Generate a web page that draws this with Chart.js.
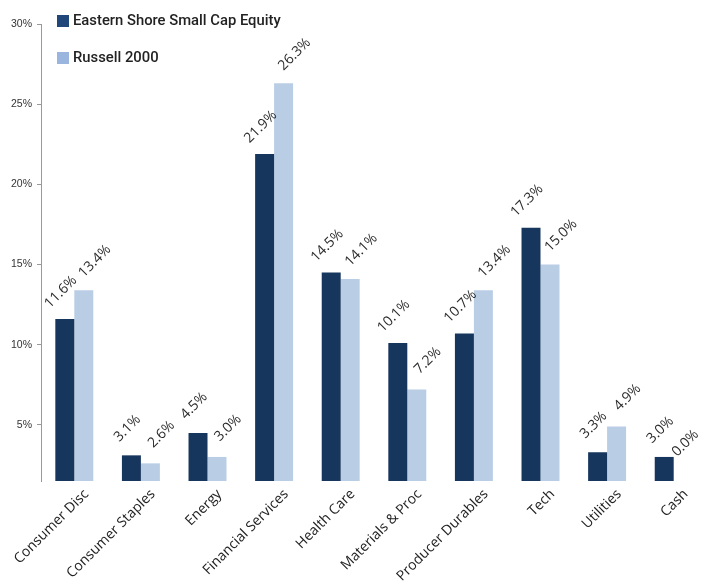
<!DOCTYPE html>
<html>
<head>
<meta charset="utf-8">
<script src="https://cdn.jsdelivr.net/npm/chart.js@4"></script>
<style>
  html, body { margin: 0; padding: 0; background: #fff; overflow: hidden; }
  #wrap { width: 708px; height: 582px; }
</style>
</head>
<body>
<div id="wrap"><canvas id="chart" width="708" height="582"></canvas></div>
<script>
const categories = ['Consumer Disc', 'Consumer Staples', 'Energy', 'Financial Services', 'Health Care',
  'Materials & Proc', 'Producer Durables', 'Tech', 'Utilities', 'Cash'];
const easternShore = [11.6, 3.1, 4.5, 21.9, 14.5, 10.1, 10.7, 17.3, 3.3, 3.0];
const russell2000 = [13.4, 2.6, 3.0, 26.3, 14.1, 7.2, 13.4, 15.0, 4.9, 0.0];
const seriesNames = ['Eastern Shore Small Cap Equity', 'Russell 2000'];
const yTicks = [5, 10, 15, 20, 25, 30];

const VISIBLE_W = 701;

// value labels, rotated like the excel original
const valueLabels = {
  id: 'valueLabels',
  afterDatasetsDraw(chart) {
    const ctx = chart.ctx;
    const bottom = chart.chartArea.bottom;
    const shift = [[-4, -27], [11, -29]];
    ctx.save();
    ctx.font = '14px "Open Sans"';
    ctx.fillStyle = '#2a2a2a';
    ctx.textAlign = 'center';
    ctx.textBaseline = 'middle';
    chart.data.datasets.forEach((ds, i) => {
      chart.getDatasetMeta(i).data.forEach((bar, j) => {
        const text = ds.data[j].toFixed(1) + '%';
        const half = (ctx.measureText(text).width + 10) * 0.707 / 2;
        const top = Math.min(bar.y, bottom);
        let x = bar.x + shift[i][0];
        let y = top + shift[i][1];
        // keep labels inside the visible area
        if (x + half > VISIBLE_W - 1) {
          y -= x + half - (VISIBLE_W - 1);
          x = VISIBLE_W - 1 - half;
        }
        ctx.save();
        ctx.translate(x, y);
        ctx.rotate(-Math.PI / 4);
        ctx.fillText(text, 0, 0);
        ctx.restore();
      });
    });
    ctx.restore();
  }
};

// legend sits inside the plot, top left
const cornerLegend = {
  id: 'cornerLegend',
  afterDraw(chart) {
    const ctx = chart.ctx;
    ctx.save();
    ctx.font = '500 14.8px Roboto';
    ctx.textBaseline = 'middle';
    chart.data.datasets.forEach((ds, i) => {
      const y = 21 + i * 37;
      ctx.fillStyle = ds.legendColor;
      ctx.fillRect(57, y - 6, 12, 12);
      ctx.fillStyle = '#222';
      ctx.fillText(ds.label, 73, y);
    });
    ctx.restore();
  }
};

new Chart(document.getElementById('chart'), {
  type: 'bar',
  data: {
    labels: categories,
    datasets: [
      { label: seriesNames[0], data: easternShore, backgroundColor: '#17365d', legendColor: '#21477a' },
      { label: seriesNames[1], data: russell2000, backgroundColor: '#b9cde5', legendColor: '#9ab6de' }
    ]
  },
  options: {
    responsive: false,
    animation: false,
    categoryPercentage: 0.57,
    barPercentage: 1.0,
    layout: { padding: { top: 24, right: 1, left: 0, bottom: 0 } },
    plugins: {
      legend: { display: false },
      tooltip: { enabled: false }
    },
    scales: {
      x: {
        offset: true,
        grid: { display: false },
        border: { display: false },
        ticks: {
          autoSkip: false,
          maxRotation: 45,
          minRotation: 45,
          labelOffset: 12,
          padding: -3,
          color: '#222',
          font: { family: 'Open Sans', size: 14 }
        },
        afterFit(scale) {
          scale.height = 101;
          scale.paddingLeft = 0;
          scale.paddingRight = 0;
        }
      },
      y: {
        min: 1.5,
        max: 30,
        afterBuildTicks(scale) {
          scale.ticks = yTicks.map(v => ({ value: v }));
        },
        afterFit(scale) {
          scale.width = 41;
        },
        grid: { drawOnChartArea: false, tickLength: 4, color: '#999' },
        border: { color: '#999' },
        ticks: {
          padding: 5,
          color: '#333',
          font: { family: 'Liberation Sans', size: 10.5 },
          callback: v => v + '%'
        }
      }
    }
  },
  plugins: [valueLabels, cornerLegend]
});
</script>
</body>
</html>
